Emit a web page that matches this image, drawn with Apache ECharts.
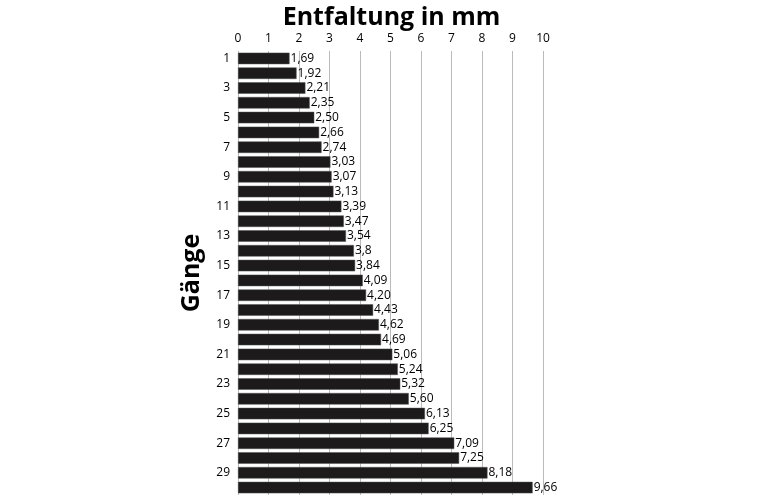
<!DOCTYPE html><html><head><meta charset="utf-8"><script src="https://cdn.jsdelivr.net/npm/echarts@6/dist/echarts.min.js"></script>
<style>html,body{margin:0;background:#fff}#c{width:783px;height:500px}</style></head><body><div id="c"></div><script>
const categories=['1','2','3','4','5','6','7','8','9','10','11','12','13','14','15','16','17','18','19','20','21','22','23','24','25','26','27','28','29','30'];
const values=[1.69,1.92,2.21,2.35,2.50,2.66,2.74,3.03,3.07,3.13,3.39,3.47,3.54,3.8,3.84,4.09,4.20,4.43,4.62,4.69,5.06,5.24,5.32,5.60,6.13,6.25,7.09,7.25,8.18,9.66];
const labels=['1,69','1,92','2,21','2,35','2,50','2,66','2,74','3,03','3,07','3,13','3,39','3,47','3,54','3,8','3,84','4,09','4,20','4,43','4,62','4,69','5,06','5,24','5,32','5,60','6,13','6,25','7,09','7,25','8,18','9,66'];
const c=echarts.init(document.getElementById('c'));
c.setOption({animation:false,
title:{text:'Entfaltung in mm',left:'center',top:0,textStyle:{fontFamily:'Open Sans',fontWeight:'bold',fontSize:25,color:'#000'}},
grid:{left:238,right:240,top:51,bottom:5},
xAxis:{type:'value',position:'top',min:0,max:10,interval:1,axisLine:{show:false},axisTick:{show:false},
 axisLabel:{color:'#000',fontSize:12,margin:6,fontFamily:'Open Sans'},splitLine:{lineStyle:{color:'#bbb'}}},
yAxis:{type:'category',inverse:true,data:categories,name:'Gänge',nameLocation:'middle',nameGap:34,nameRotate:90,
 nameTextStyle:{fontFamily:'Open Sans',fontWeight:'bold',fontSize:25,color:'#000'},
 axisLine:{show:false},axisTick:{show:false},axisLabel:{color:'#000',fontSize:12,margin:8,fontFamily:'Open Sans'}},
series:[{type:'bar',data:values,barCategoryGap:'22%',itemStyle:{color:'#1c1a1a',borderColor:'#555',borderWidth:0.5},
 label:{show:true,position:'right',distance:1,color:'#000',fontSize:12,fontFamily:'Open Sans',formatter:p=>labels[p.dataIndex]}}]});
</script></body></html>
